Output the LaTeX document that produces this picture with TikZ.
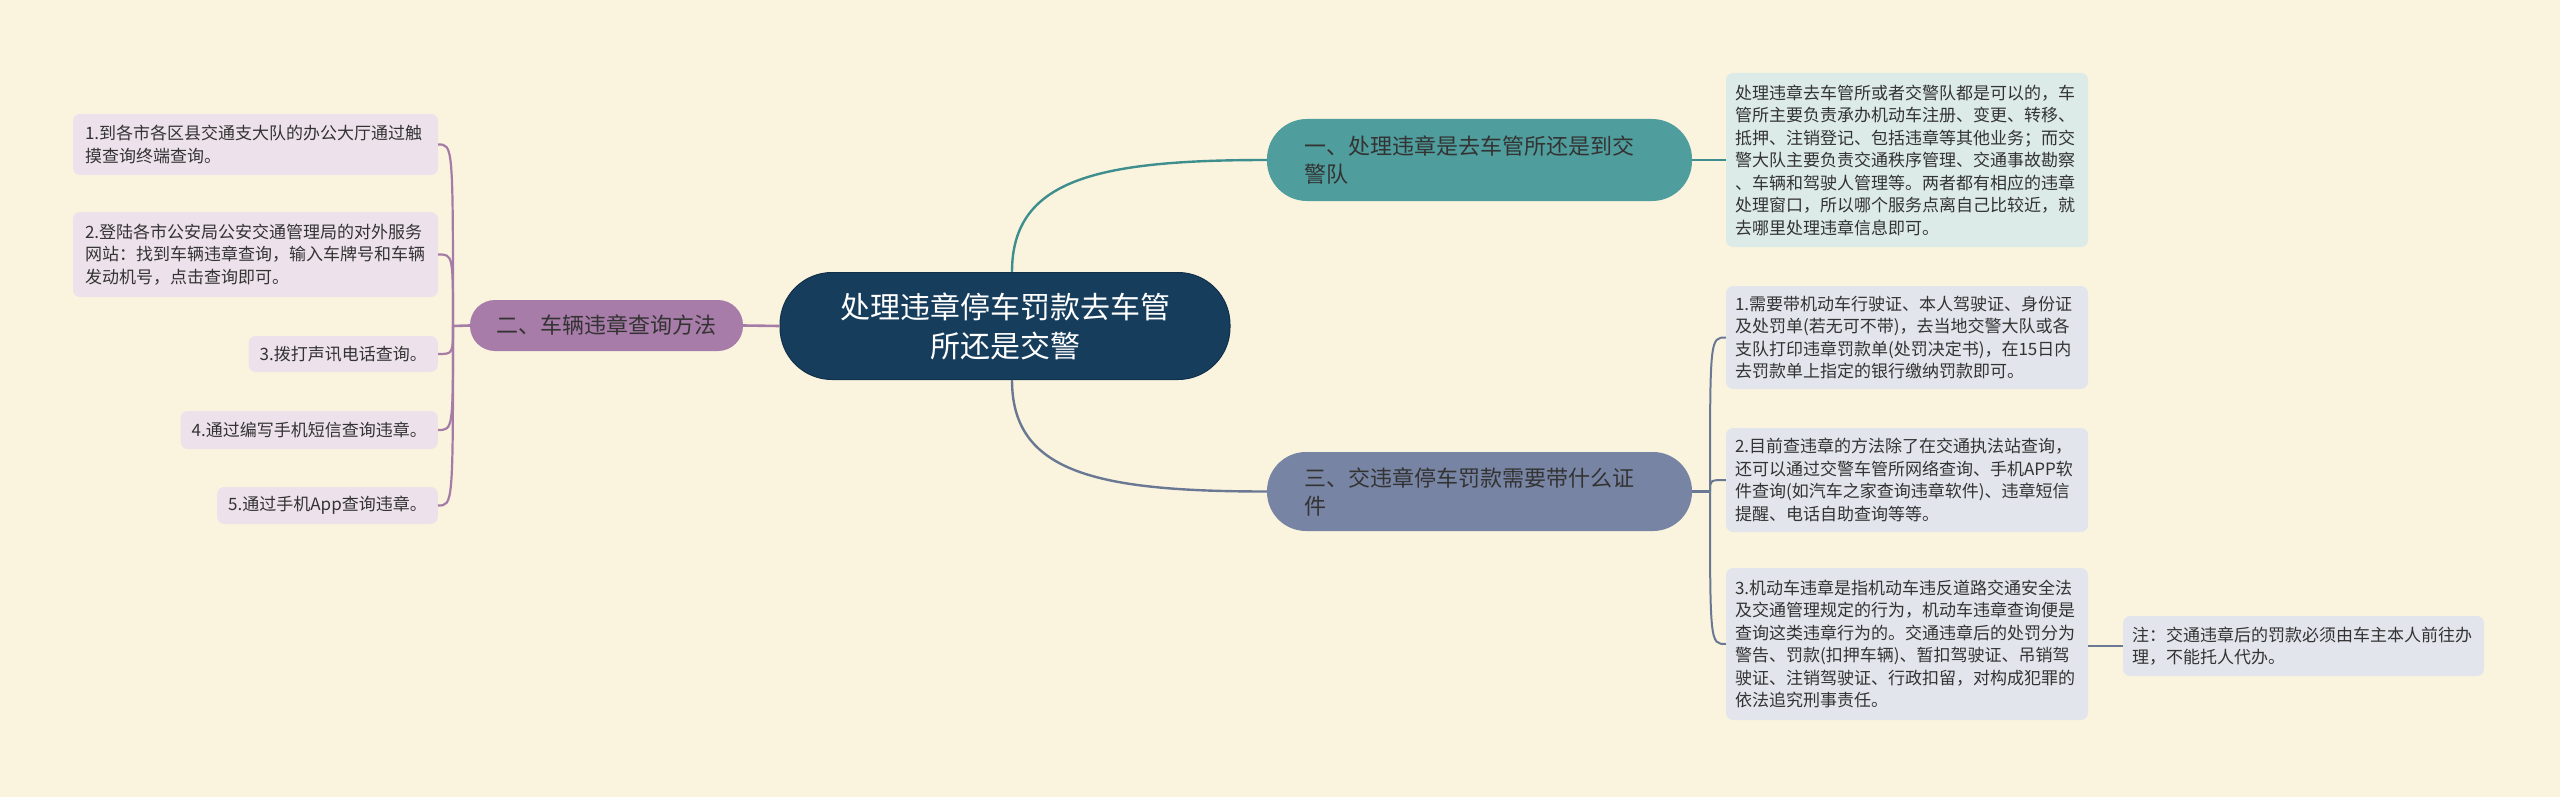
\documentclass[tikz,border=0pt]{standalone}
\usepackage{fontspec}
\setmainfont{Noto Sans CJK SC}
\usetikzlibrary{calc}
\definecolor{bgc}{HTML}{FAF4DF}
\definecolor{cnavy}{HTML}{173D5C}
\definecolor{cnavyd}{HTML}{10304B}
\definecolor{bpurple}{HTML}{A87CA8}
\definecolor{bteal}{HTML}{4F9D9C}
\definecolor{bslate}{HTML}{7884A3}
\definecolor{lpurple}{HTML}{EDE2EC}
\definecolor{lteal}{HTML}{DCEAE8}
\definecolor{lslate}{HTML}{E2E5EC}
\definecolor{cpurple}{HTML}{A57CA5}
\definecolor{cteal}{HTML}{3F8E8E}
\definecolor{cslate}{HTML}{6A7894}
\definecolor{txt}{HTML}{333333}
\tikzset{
  centralbox/.style={fill=cnavy, draw=cnavyd, line width=1pt, rounded corners=52pt, text=white, align=center, font=\fontsize{30}{39}\selectfont, inner sep=0pt},
  branchbox/.style={text=txt, inner ysep=0pt, font=\fontsize{22}{28}\selectfont},
  leafbox/.style={rounded corners=7pt, text=txt, inner ysep=0pt, align=left, font=\fontsize{17}{22.5}\selectfont},
  lconn/.style={draw=cpurple, line width=2.6pt},
  tconn/.style={draw=cteal, line width=2.4pt},
  sconn/.style={draw=cslate, line width=2.4pt}
}
\begin{document}
\begin{tikzpicture}[x=1pt,y=-1pt]
\fill[bgc] (0,0) rectangle (2560,797);
\useasboundingbox (0,0) rectangle (2560,797);

% central
\node[centralbox, minimum width=450, minimum height=107] (c) at (1005,326) {处理违章停车罚款去车管\\所还是交警};

% branches
\node[branchbox, fill=bpurple, rounded corners=25pt, minimum width=273, minimum height=51, inner xsep=0pt] (b2) at (606.5,325.5) {二、车辆违章查询方法};
\node[branchbox, fill=bteal, rounded corners=40pt, text width=350, inner xsep=37.5pt, minimum height=82, align=left] (b1) at (1479.5,160) {一、处理违章是去车管所还是到交\\警队};
\node[branchbox, fill=bslate, rounded corners=39pt, text width=350, inner xsep=37.5pt, minimum height=79, align=left] (b3) at (1479.5,491.5) {三、交违章停车罚款需要带什么证\\件};

% right leaves
\node[leafbox, fill=lteal, text width=344, inner xsep=9pt, minimum height=174] (r0) at (1907,160) {处理违章去车管所或者交警队都是可以的，车\\管所主要负责承办机动车注册、变更、转移、\\抵押、注销登记、包括违章等其他业务；而交\\警大队主要负责交通秩序管理、交通事故勘察\\、车辆和驾驶人管理等。两者都有相应的违章\\处理窗口，所以哪个服务点离自己比较近，就\\去哪里处理违章信息即可。};
\node[leafbox, fill=lslate, text width=344, inner xsep=9pt, minimum height=103] (r1) at (1907,337.5) {1.需要带机动车行驶证、本人驾驶证、身份证\\及处罚单(若无可不带)，去当地交警大队或各\\支队打印违章罚款单(处罚决定书)，在15日内\\去罚款单上指定的银行缴纳罚款即可。};
\node[leafbox, fill=lslate, text width=344, inner xsep=9pt, minimum height=104] (r2) at (1907,480) {2.目前查违章的方法除了在交通执法站查询，\\还可以通过交警车管所网络查询、手机APP软\\件查询(如汽车之家查询违章软件)、违章短信\\提醒、电话自助查询等等。};
\node[leafbox, fill=lslate, text width=344, inner xsep=9pt, minimum height=152] (r3) at (1907,644) {3.机动车违章是指机动车违反道路交通安全法\\及交通管理规定的行为，机动车违章查询便是\\查询这类违章行为的。交通违章后的处罚分为\\警告、罚款(扣押车辆)、暂扣驾驶证、吊销驾\\驶证、注销驾驶证、行政扣留，对构成犯罪的\\依法追究刑事责任。};
\node[leafbox, fill=lslate, text width=343, inner xsep=9pt, minimum height=60] (n1) at (2303.5,646) {注：交通违章后的罚款必须由车主本人前往办\\理，不能托人代办。};

% left leaves
\node[leafbox, fill=lpurple, text width=341, inner xsep=12pt, minimum height=61] (l1) at (255.5,144.5) {1.到各市各区县交通支大队的办公大厅通过触\\摸查询终端查询。};
\node[leafbox, fill=lpurple, text width=341, inner xsep=12pt, minimum height=85] (l2) at (255.5,254.5) {2.登陆各市公安局公安交通管理局的对外服务\\网站：找到车辆违章查询，输入车牌号和车辆\\发动机号，点击查询即可。};
\node[leafbox, fill=lpurple, inner xsep=11pt, minimum height=36, anchor=east] (l3) at (438,354) {3.拨打声讯电话查询。};
\node[leafbox, fill=lpurple, inner xsep=11pt, minimum height=38, anchor=east] (l4) at (438,430) {4.通过编写手机短信查询违章。};
\node[leafbox, fill=lpurple, inner xsep=11pt, minimum height=37, anchor=east] (l5) at (438,505.5) {5.通过手机App查询违章。};

% connectors: central
\draw[lconn] (c.west) -- (b2.east);
\draw[tconn] ($(c.north)+(7,0)$) .. controls (1012,180) and (1095,160) .. (b1.west);
\draw[sconn] ($(c.south)+(7,0)$) .. controls (1012,472) and (1095,491.5) .. (b3.west);

% left tree
\coordinate (lt) at (453,326);
\draw[lconn] (b2.west) -- (lt);
\foreach \n in {l1,l2,l3,l4,l5}
  \draw[lconn, line width=2.2pt] (lt) .. controls (lt |- \n.east) .. (\n.east);

% right
\draw[tconn] (b1.east) -- (r0.west);
\coordinate (rt) at (1710,491.5);
\draw[sconn] (b3.east) -- (rt);
\foreach \n in {r1,r2,r3}
  \draw[sconn, line width=2pt] (rt) .. controls (rt |- \n.west) .. (\n.west);
\draw[sconn] (r3.east |- n1.west) -- (n1.west);
\end{tikzpicture}
\end{document}
